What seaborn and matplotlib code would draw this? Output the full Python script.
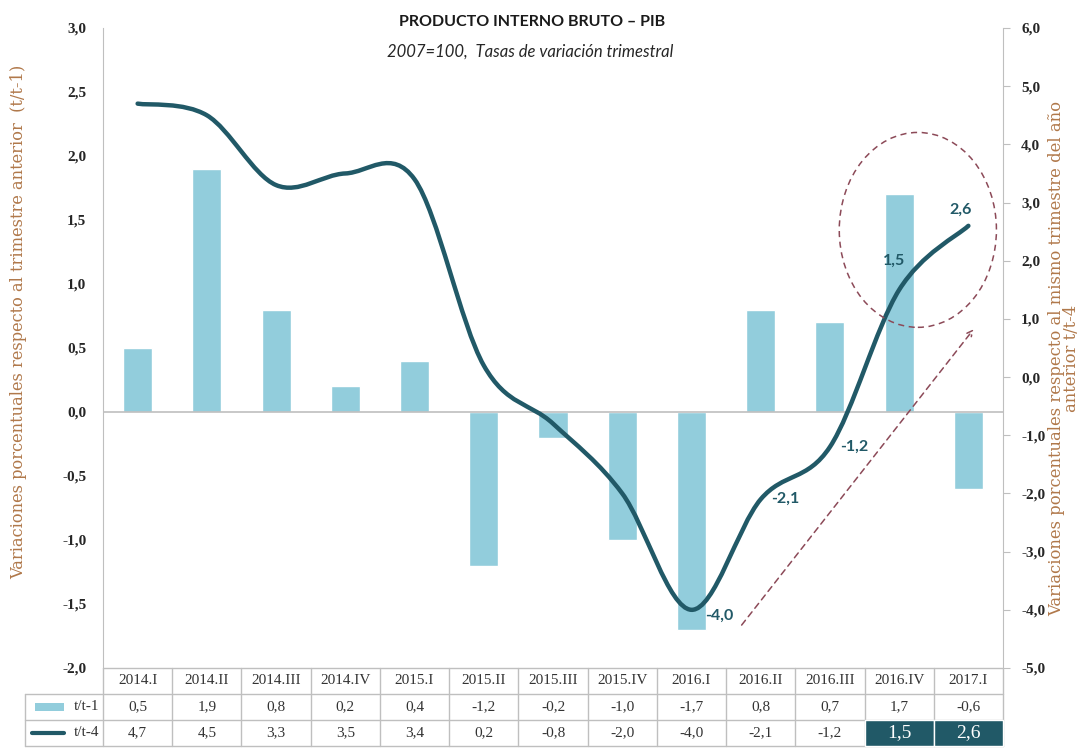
import numpy as np
import matplotlib
matplotlib.use("Agg")
import matplotlib.pyplot as plt
import matplotlib.transforms as mtransforms
from matplotlib.path import Path
from matplotlib.patches import PathPatch, Rectangle, Ellipse
import seaborn as sns

quarters = ['2014.I', '2014.II', '2014.III', '2014.IV', '2015.I', '2015.II', '2015.III',
            '2015.IV', '2016.I', '2016.II', '2016.III', '2016.IV', '2017.I']
tt1 = [0.5, 1.9, 0.8, 0.2, 0.4, -1.2, -0.2, -1.0, -1.7, 0.8, 0.7, 1.7, -0.6]
tt4 = [4.7, 4.5, 3.3, 3.5, 3.4, 0.2, -0.8, -2.0, -4.0, -2.1, -1.2, 1.5, 2.6]
labelled = [8, 9, 10, 11, 12]       # points of t/t-4 with a value label
highlight = [11, 12]                 # table cells shown in dark fill

BAR = '#92CDDC'
LINE = '#215967'
AXLAB = '#B0784A'
GRID = '#BFBFBF'
MARK = '#8C4A58'


def fmt(v, d=1):
    return f"{v:.{d}f}".replace('.', ',')


def smooth_path(xs, ys):
    """Excel-style smoothed line through the points (cubic Bezier segments)."""
    pts = np.column_stack([xs, ys]).astype(float)
    n = len(pts)
    verts = [pts[0]]
    codes = [Path.MOVETO]
    for i in range(n - 1):
        p0 = pts[i - 1] if i > 0 else pts[i]
        p1, p2 = pts[i], pts[i + 1]
        p3 = pts[i + 2] if i + 2 < n else pts[i + 1]
        c1 = p1 + (p2 - p0) / 6
        c2 = p2 - (p3 - p1) / 6
        verts += [c1, c2, p2]
        codes += [Path.CURVE4] * 3
    return Path(verts, codes)


sns.set_style("white")
fig = plt.figure(figsize=(10.8, 7.51), dpi=100)
ax = fig.add_axes([103 / 1080, 83 / 751, 900 / 1080, 640 / 751])

sns.barplot(x=quarters, y=tt1, color=BAR, width=0.42, saturation=1, ax=ax)
ax.set_xlim(-0.5, len(quarters) - 0.5)
ax.set_ylim(-2, 3)
ax.set_yticks(np.arange(-2, 3.01, 0.5))
ax.set_yticklabels([fmt(v) for v in np.arange(-2, 3.01, 0.5)],
                   family='Liberation Serif', fontweight='bold', fontsize=11, color='#262626')
ax.tick_params(axis='y', length=0, pad=12)
ax.set_xticks([])
ax.set_xlabel('')
ax.set_ylabel('')
ax.axhline(0, color=GRID, lw=1.2, zorder=1)
for s in ['top', 'bottom', 'right']:
    ax.spines[s].set_visible(False)
ax.spines['left'].set_color(GRID)

ax2 = ax.twinx()
ax2.set_ylim(-5, 6)
ax2.set_yticks(np.arange(-5, 6.01, 1))
ax2.set_yticklabels([fmt(v) for v in np.arange(-5, 6.01, 1)],
                    family='Liberation Serif', fontweight='bold', fontsize=11, color='#262626')
ax2.tick_params(axis='y', length=5, color=GRID, pad=8)
for s in ['top', 'bottom', 'left']:
    ax2.spines[s].set_visible(False)
ax2.spines['right'].set_color(GRID)

# axis titles
fig.text(19 / 1080, 1 - 322 / 751,
         'Variaciones porcentuales respecto al trimestre anterior  (t/t-1)',
         rotation=90, ha='center', va='center', family='DejaVu Serif', fontsize=11.7,
         color=AXLAB)
fig.text(1064 / 1080, 1 - 358 / 751,
         'Variaciones porcentuales respecto al mismo trimestre del año\nanterior t/t-4',
         rotation=90, ha='center', va='center', multialignment='center',
         family='DejaVu Serif', fontsize=11.8, color=AXLAB, linespacing=0.85)

xs = np.arange(len(quarters))
ax2.add_patch(PathPatch(smooth_path(xs, tt4), facecolor='none', edgecolor=LINE,
                        lw=3.2, capstyle='round', zorder=4))

offsets = {8: (0.4, -0.1), 9: (0.35, 0), 10: (0.35, 0), 11: (-0.08, 0.5), 12: (-0.12, 0.28)}
for i in labelled:
    dx, dy = offsets[i]
    ax2.text(i + dx, tt4[i] + dy, fmt(tt4[i]), ha='center', va='center', color=LINE,
             fontsize=11.5, fontweight='bold', family='Lato', zorder=5)

# highlight ellipse and trend arrow
ax2.add_patch(Ellipse((11.27, 2.53), 2.27, 3.35, fill=False, ec=MARK, ls=(0, (4, 3)),
                      lw=1.1, zorder=6))
ax2.annotate('', xy=(12.1, 0.86), xytext=(8.7, -4.3),
             arrowprops=dict(arrowstyle='->', ls=(0, (4, 3)), color=MARK, lw=1.1))

# titles
fig.text(532 / 1080, 1 - 22 / 751, 'PRODUCTO INTERNO BRUTO – PIB', ha='center', va='center',
         family='Lato', fontweight='bold', fontsize=11.5, color='#1a1a1a')
fig.text(530 / 1080, 1 - 52 / 751, '2007=100,  Tasas de variación trimestral', ha='center',
         va='center', family='Lato', style='italic', fontsize=12, color='#262626')

# data table below the plot
trans = mtransforms.blended_transform_factory(ax.transData, ax.transAxes)
row_h = 26 / 640
tops = [0, -row_h, -2 * row_h, -3 * row_h]
left_x = -0.5 - 78 / (900 / len(quarters))
for k, y in enumerate(tops):
    x0 = -0.5 if k == 0 else left_x
    ax.plot([x0, len(quarters) - 0.5], [y, y], transform=trans, color=GRID, lw=1,
            clip_on=False)
for j in range(len(quarters) + 1):
    ax.plot([j - 0.5, j - 0.5], [tops[0], tops[3]], transform=trans, color=GRID, lw=1,
            clip_on=False)
ax.plot([left_x, left_x], [tops[1], tops[3]], transform=trans, color=GRID, lw=1, clip_on=False)

for j, q in enumerate(quarters):
    ax.text(j, -row_h / 2, q, transform=trans, ha='center', va='center',
            family='Liberation Serif', fontsize=11, color='#333333')
    ax.text(j, -1.5 * row_h, fmt(tt1[j]), transform=trans, ha='center', va='center',
            family='Liberation Serif', fontsize=11, color='#333333')
    if j in highlight:
        ax.add_patch(Rectangle((j - 0.5, tops[3]), 1, row_h, transform=trans,
                               facecolor=LINE, edgecolor='white', lw=1,
                               clip_on=False, zorder=3))
        ax.text(j, -2.5 * row_h, fmt(tt4[j]), transform=trans, ha='center', va='center',
                family='Liberation Serif', fontsize=14, color='white', zorder=4)
    else:
        ax.text(j, -2.5 * row_h, fmt(tt4[j]), transform=trans, ha='center', va='center',
                family='Liberation Serif', fontsize=11, color='#333333')

# row labels with legend keys
ax.add_patch(Rectangle((left_x + 0.14, -1.5 * row_h - 0.007), 0.42, 0.014, transform=trans,
                       facecolor=BAR, edgecolor='none', clip_on=False))
ax.plot([left_x + 0.1, left_x + 0.56], [-2.5 * row_h] * 2, transform=trans, color=LINE,
        lw=3, clip_on=False, solid_capstyle='round')
ax.text(-0.55, -1.5 * row_h, 't/t-1', transform=trans, ha='right', va='center',
        family='Liberation Serif', fontsize=11, color='#333333')
ax.text(-0.55, -2.5 * row_h, 't/t-4', transform=trans, ha='right', va='center',
        family='Liberation Serif', fontsize=11, color='#333333')

fig.savefig('out.png', dpi=100)
